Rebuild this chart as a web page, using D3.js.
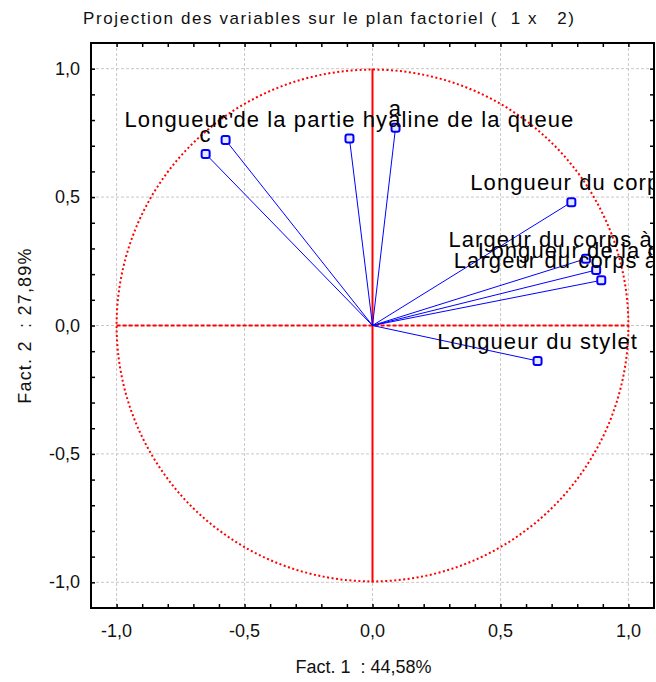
<!DOCTYPE html>
<html lang="fr">
<head>
<meta charset="utf-8">
<title>Projection des variables</title>
<script src="https://cdn.jsdelivr.net/npm/d3@7"></script>
<style>
  body { margin: 0; background: #fff; }
  text { font-family: "Liberation Sans", Arial, sans-serif; }
</style>
</head>
<body>
<script>
var w = 656, h = 682;
var margin = {left: 91, right: 2, top: 43, bottom: 74};

// variables and their coordinates on factors 1 and 2
var labels = ["c", "c'", "Longueur de la partie hyaline de la queue", "a",
              "Longueur du corps", "Largeur du corps à l'anus", "Longueur de la queue",
              "Largeur du corps à la vulve", "Longueur du stylet"];
var fact1 = [-0.652, -0.574, -0.090, 0.090, 0.777, 0.834, 0.874, 0.894, 0.645];
var fact2 = [ 0.668,  0.722,  0.728, 0.770, 0.480, 0.260, 0.216, 0.176, -0.138];

var majorTicks = [-1, -0.5, 0, 0.5, 1];
var minorTicks = d3.range(-10, 11).map(function(d) { return d / 10; });
var title = "Projection des variables sur le plan factoriel (  1 x   2)";
var xTitle = "Fact. 1  : 44,58%";
var yTitle = "Fact. 2  : 27,89%";

var fmt = function(d) { return d3.format(".1f")(d).replace(".", ",").replace("−", "-"); };

var xScale = d3.scaleLinear().domain([-1.1, 1.1]).range([margin.left, w - margin.right]);
var yScale = d3.scaleLinear().domain([-1.1, 1.1]).range([h - margin.bottom, margin.top]);

var svg = d3.select("body").append("svg").attr("width", w).attr("height", h);

svg.append("defs").append("clipPath").attr("id", "clip")
   .append("rect")
   .attr("x", margin.left).attr("y", margin.top)
   .attr("width", w - margin.right - margin.left)
   .attr("height", h - margin.bottom - margin.top);

// grid
svg.append("g").selectAll("line.gx").data(majorTicks).enter().append("line")
   .attr("x1", function(d) { return xScale(d); }).attr("x2", function(d) { return xScale(d); })
   .attr("y1", margin.top).attr("y2", h - margin.bottom)
   .attr("stroke", "#c8c8c8").attr("stroke-dasharray", "3,2");
svg.append("g").selectAll("line.gy").data(majorTicks).enter().append("line")
   .attr("y1", function(d) { return yScale(d); }).attr("y2", function(d) { return yScale(d); })
   .attr("x1", margin.left).attr("x2", w - margin.right)
   .attr("stroke", "#c8c8c8").attr("stroke-dasharray", "3,2");

var plot = svg.append("g").attr("clip-path", "url(#clip)");

// unit circle and red axes
plot.append("circle")
    .attr("cx", xScale(0)).attr("cy", yScale(0))
    .attr("r", xScale(1) - xScale(0))
    .attr("fill", "none").attr("stroke", "#ff0000")
    .attr("stroke-width", 2).attr("stroke-dasharray", "2,2.5");
plot.append("line")
    .attr("x1", xScale(-1)).attr("x2", xScale(1))
    .attr("y1", yScale(0)).attr("y2", yScale(0))
    .attr("stroke", "#ff0000").attr("stroke-width", 2).attr("stroke-dasharray", "4,2");
plot.append("line")
    .attr("x1", xScale(0)).attr("x2", xScale(0))
    .attr("y1", yScale(-1)).attr("y2", yScale(1))
    .attr("stroke", "#ff0000").attr("stroke-width", 2);

var idx = d3.range(labels.length);

// vectors
plot.selectAll("line.vec").data(idx).enter().append("line")
    .attr("x1", xScale(0)).attr("y1", yScale(0))
    .attr("x2", function(i) { return xScale(fact1[i]); })
    .attr("y2", function(i) { return yScale(fact2[i]); })
    .attr("stroke", "#0000ff").attr("stroke-width", 1);

plot.selectAll("rect.pt").data(idx).enter().append("rect")
    .attr("x", function(i) { return xScale(fact1[i]) - 4; })
    .attr("y", function(i) { return yScale(fact2[i]) - 4; })
    .attr("width", 8).attr("height", 8).attr("rx", 2)
    .attr("fill", "#e8e8ff").attr("stroke", "#0000ff").attr("stroke-width", 2);

plot.selectAll("text.lab").data(idx).enter().append("text")
    .attr("x", function(i) { return xScale(fact1[i]); })
    .attr("y", function(i) { return yScale(fact2[i]) - 12; })
    .attr("text-anchor", "middle")
    .attr("font-size", "22px").attr("letter-spacing", "1.1px")
    .attr("fill", "#000")
    .text(function(i) { return labels[i]; });

// frame
svg.append("rect")
   .attr("x", margin.left).attr("y", margin.top)
   .attr("width", w - margin.right - margin.left)
   .attr("height", h - margin.bottom - margin.top)
   .attr("fill", "none").attr("stroke", "#000").attr("stroke-width", 2);

// inward ticks on all four sides
var xb = d3.axisBottom(xScale).tickValues(minorTicks).tickSize(-4).tickFormat("");
var xt = d3.axisTop(xScale).tickValues(minorTicks).tickSize(-4).tickFormat("");
var yl = d3.axisLeft(yScale).tickValues(minorTicks).tickSize(-4).tickFormat("");
var yr = d3.axisRight(yScale).tickValues(minorTicks).tickSize(-4).tickFormat("");
[
  [xb, "translate(0," + (h - margin.bottom) + ")"],
  [xt, "translate(0," + margin.top + ")"],
  [yl, "translate(" + margin.left + ",0)"],
  [yr, "translate(" + (w - margin.right) + ",0)"]
].forEach(function(a) {
  var g = svg.append("g").attr("transform", a[1]).call(a[0]);
  g.select(".domain").remove();
  g.selectAll(".tick line").attr("stroke", "#000").attr("stroke-width", 1.5);
});

// tick labels
svg.append("g").selectAll("text").data(majorTicks).enter().append("text")
   .attr("x", function(d) { return xScale(d); })
   .attr("y", h - margin.bottom + 29)
   .attr("text-anchor", "middle").attr("font-size", "18px").attr("fill", "#111")
   .text(fmt);
svg.append("g").selectAll("text").data(majorTicks).enter().append("text")
   .attr("x", 80)
   .attr("y", function(d) { return yScale(d) + 6; })
   .attr("text-anchor", "end").attr("font-size", "18px").attr("fill", "#111")
   .text(fmt);

// titles
svg.append("text").attr("x", 83).attr("y", 24)
   .attr("font-size", "17px").attr("letter-spacing", "1.6px").attr("fill", "#111")
   .style("white-space", "pre")
   .text(title);
svg.append("text").attr("x", xScale(0) - 9).attr("y", 673)
   .attr("text-anchor", "middle").attr("font-size", "18px").attr("fill", "#111")
   .style("white-space", "pre")
   .text(xTitle);
svg.append("text")
   .attr("transform", "translate(31," + yScale(0) + ") rotate(-90)")
   .attr("text-anchor", "middle").attr("font-size", "18px")
   .attr("letter-spacing", "1.2px").attr("fill", "#111")
   .style("white-space", "pre")
   .text(yTitle);
</script>
</body>
</html>
